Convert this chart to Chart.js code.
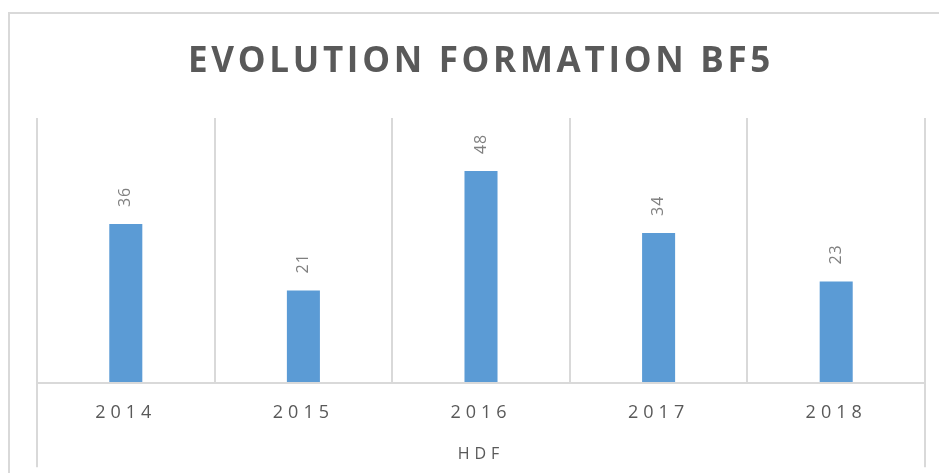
<!DOCTYPE html>
<html>
<head>
<meta charset="utf-8">
<script src="https://cdn.jsdelivr.net/npm/chart.js@4/dist/chart.umd.min.js"></script>
<style>
  html, body { margin: 0; padding: 0; background: #ffffff; overflow: hidden; }
  #wrap { position: relative; width: 939px; height: 473px; overflow: hidden; }
  #frame { position: absolute; left: 8px; top: 12px; width: 2000px; height: 2000px;
           border-left: 2px solid #d9d9d9; border-top: 2px solid #d9d9d9; pointer-events: none; }
  canvas { position: absolute; left: 0; top: 0; }
</style>
</head>
<body>
<div id="wrap">
  <canvas id="c" width="939" height="473"></canvas>
  <div id="frame"></div>
</div>
<script>
const chartTitle = 'EVOLUTION FORMATION BF5';
const axisTitle = 'HDF';
const categories = ['2014', '2015', '2016', '2017', '2018'];
const seriesValues = [36, 21, 48, 34, 23];
const yMin = 0;
const yMax = 60;

const spacingPlugin = {
  id: 'spacing',
  beforeDraw(chart) {
    chart.ctx.letterSpacing = '3.7px';
  },
  afterDatasetsDraw(chart) {
    const ctx = chart.ctx;
    const meta = chart.getDatasetMeta(0);
    ctx.save();
    ctx.letterSpacing = '1px';
    ctx.font = '16px "Open Sans"';
    ctx.fillStyle = '#808080';
    ctx.textAlign = 'left';
    ctx.textBaseline = 'middle';
    meta.data.forEach((bar, i) => {
      ctx.save();
      ctx.translate(bar.x, bar.y - 17);
      ctx.rotate(-Math.PI / 2);
      ctx.fillText(String(seriesValues[i]), 0, 0);
      ctx.restore();
    });
    ctx.restore();
    ctx.letterSpacing = '5px';
  },
  afterDraw(chart) {
    const ctx = chart.ctx;
    const area = chart.chartArea;
    ctx.save();
    ctx.letterSpacing = '0px';
    ctx.strokeStyle = '#d9d9d9';
    ctx.lineWidth = 2;
    ctx.beginPath();
    ctx.moveTo(area.left, area.bottom);
    ctx.lineTo(area.left, area.bottom + 84);
    ctx.moveTo(area.right, area.bottom);
    ctx.lineTo(area.right, area.bottom + 84);
    ctx.stroke();
    ctx.restore();
  }
};

new Chart(document.getElementById('c'), {
  type: 'bar',
  data: {
    labels: categories,
    datasets: [{
      data: seriesValues,
      backgroundColor: '#5b9bd5',
      borderWidth: 0,
      categoryPercentage: 1,
      barPercentage: 0.186
    }]
  },
  options: {
    responsive: false,
    animation: false,
    devicePixelRatio: 1,
    layout: { padding: { left: 37, right: 14, top: 0, bottom: 0 } },
    plugins: {
      legend: { display: false },
      tooltip: { enabled: false },
      title: {
        display: true,
        text: chartTitle,
        color: '#595959',
        font: { family: '"Open Sans"', size: 35, weight: 'bold', lineHeight: 1.2 },
        padding: { top: 41, bottom: 35 }
      }
    },
    scales: {
      x: {
        offset: true,
        grid: { offset: true, color: '#d9d9d9', lineWidth: 2, drawTicks: false, z: 1 },
        border: { display: true, color: '#d9d9d9', width: 2, z: 1 },
        ticks: {
          z: 1,
          color: '#595959',
          font: { family: '"Open Sans"', size: 18, lineHeight: 1.2 },
          padding: 19,
          maxRotation: 0
        },
        title: {
          display: true,
          text: axisTitle,
          color: '#595959',
          font: { family: '"Open Sans"', size: 16, lineHeight: 1.2 },
          padding: { top: 2, bottom: 9 }
        }
      },
      y: {
        display: false,
        min: yMin,
        max: yMax
      }
    }
  },
  plugins: [spacingPlugin]
});
</script>
</body>
</html>
